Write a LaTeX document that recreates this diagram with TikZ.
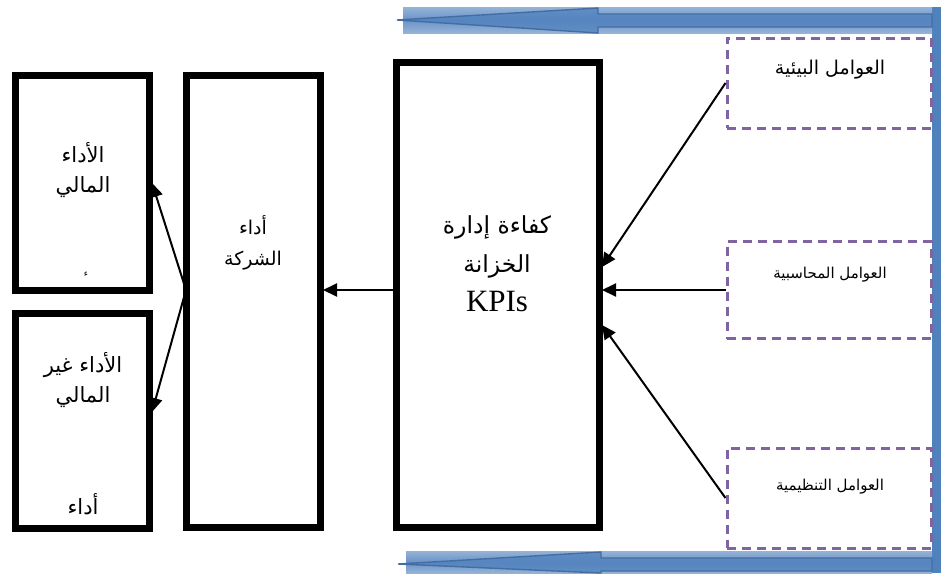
\documentclass[tikz,border=0pt]{standalone}
\usepackage{fontspec}
\setmainfont{Liberation Serif}
\newfontfamily\arabicfont[Script=Arabic]{DejaVu Sans}
\TeXXeTstate=1
\usetikzlibrary{arrows.meta}
\definecolor{bluedark}{HTML}{4F81BD}
\definecolor{bluelight}{HTML}{95B3D7}
\definecolor{bluemid}{HTML}{6B93C9}
\definecolor{dashpurple}{HTML}{8064A2}
\tikzset{
  blk/.style={draw=black, line width=7pt, fill=white, inner sep=0pt},
  dbox/.style={draw=dashpurple, line width=3pt, dash pattern=on 9pt off 6pt, inner sep=0pt},
  arr/.style={line width=2pt, -{Triangle[length=14pt,width=13pt]}},
  lbl/.style={align=center, inner sep=0pt, text=black},
}
\begin{document}
\begin{tikzpicture}[x=1pt,y=-1pt]
\useasboundingbox (0,0) rectangle (941,573);
% blue frame
\fill[bluedark] (932,7) rectangle (941,573);
\shade[top color=bluelight, bottom color=bluelight, middle color=bluemid] (403,7) rectangle (932,33);
\filldraw[fill=bluedark, draw=bluedark!85!black, line width=1.4pt, fill opacity=0.75]
  (397,20) -- (598,8) -- (598,14) -- (932,14) -- (932,27) -- (598,27) -- (598,33) -- cycle;
\shade[top color=bluelight, bottom color=bluelight, middle color=bluemid] (406,551) rectangle (932,573);
\filldraw[fill=bluedark, draw=bluedark!85!black, line width=1.4pt, fill opacity=0.75]
  (398,564) -- (601,552) -- (601,558) -- (932,558) -- (932,571) -- (601,571) -- (601,573) -- cycle;

% boxes
\node[blk, minimum width=134pt, minimum height=215pt] (fin) at (82,182.5) {};
\node[blk, minimum width=134pt, minimum height=215pt] (nonfin) at (82,420.5) {};
\node[blk, minimum width=134pt, minimum height=452pt] (comp) at (253,301) {};
\node[blk, minimum width=202.5pt, minimum height=465pt] (kpi) at (497.75,295) {};
\node[dbox, minimum width=204pt, minimum height=90pt] (env) at (829,83) {};
\node[dbox, minimum width=204pt, minimum height=97pt] (acc) at (829,290) {};
\node[dbox, minimum width=204pt, minimum height=100pt] (org) at (829,498) {};

% labels
\node[lbl, font=\arabicfont\fontsize{21}{30}\selectfont] (tfin) at (83,170) {\beginR الأداء\endR\\\beginR المالي\endR};
\node[lbl, font=\arabicfont\fontsize{9}{10}\selectfont] (tdot) at (86,274) {\beginR ء\endR};
\node[lbl, font=\arabicfont\fontsize{21}{30}\selectfont] (tnon) at (83,380) {\beginR الأداء غير\endR\\\beginR المالي\endR};
\node[lbl, font=\arabicfont\fontsize{21}{30}\selectfont] (tnon2) at (83,504) {\beginR أداء\endR};
\node[lbl, font=\arabicfont\fontsize{19}{31}\selectfont] (tcomp) at (253,243) {\beginR أداء\endR\\\beginR الشركة\endR};
\node[lbl, font=\fontsize{31}{39}\selectfont] (tkpi) at (497,264) {{\arabicfont\fontsize{23.5}{39}\selectfont\beginR كفاءة إدارة\endR}\\{\arabicfont\fontsize{23.5}{39}\selectfont\beginR الخزانة\endR}\\KPIs};
\node[lbl, font=\arabicfont\fontsize{19}{20}\selectfont] (tenv) at (830,70) {\beginR العوامل البيئية\endR};
\node[lbl, font=\arabicfont\fontsize{15}{16}\selectfont] (tacc) at (830,275) {\beginR العوامل المحاسبية\endR};
\node[lbl, font=\arabicfont\fontsize{15}{16}\selectfont] (torg) at (830,487) {\beginR العوامل التنظيمية\endR};

% connector end points
\coordinate (k1) at (602,267);
\coordinate (k2) at (602,290);
\coordinate (k3) at (602,325);
\coordinate (kw) at (396.5,290);
\coordinate (ce) at (323,290);
\coordinate (cw) at (186,290);
\coordinate (f1) at (152,183);
\coordinate (f2) at (152,412);

\draw[arr] (env.west) -- (k1);
\draw[arr] (acc.west) -- (k2);
\draw[arr] (org.west) -- (k3);
\draw[arr] (kw) -- (ce);
\draw[arr] (cw) -- (f1);
\draw[arr] (cw) -- (f2);
\end{tikzpicture}
\end{document}
